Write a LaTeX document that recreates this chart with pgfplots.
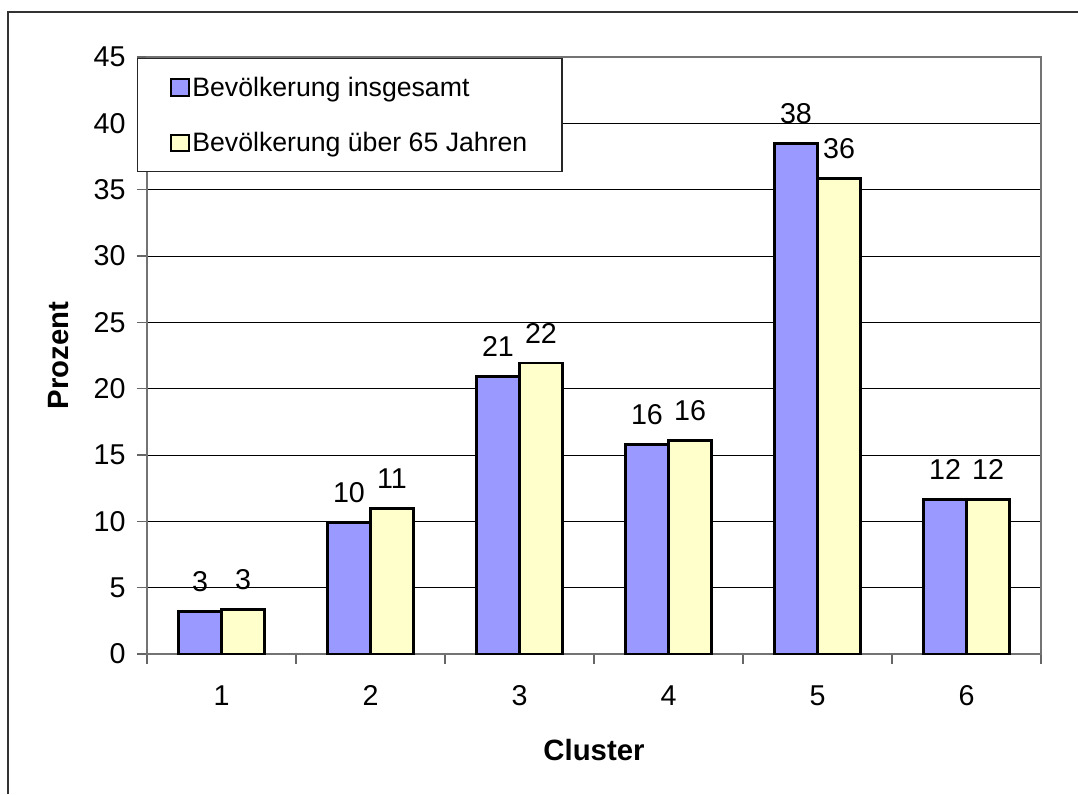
\documentclass[border=0pt]{standalone}
\usepackage{pgfplots}
\pgfplotsset{compat=1.18}
\usepackage{fontspec}
\setmainfont{Liberation Sans}
\definecolor{barblue}{HTML}{9999FF}
\definecolor{baryellow}{HTML}{FFFFCC}
\begin{document}
\begin{tikzpicture}[x=1pt,y=1pt]
\useasboundingbox (0,0) rectangle (808.5,595.5);
\draw[line width=1.4pt, black!80] (6,0) -- (6,586.5) -- (808.5,586.5);
\begin{axis}[
  at={(110.25pt,105pt)}, anchor=south west,
  scale only axis,
  width=670.5pt, height=447.75pt,
  xmin=0.5, xmax=6.5,
  ymin=0, ymax=45,
  ytick={0,5,...,45},
  ymajorgrids=true,
  major grid style={black, line width=0.6pt},
  axis line style={draw=black!55, line width=1pt},
  tick style={draw=black!60, line width=1pt},
  tick align=outside,
  major tick length=7.5pt,
  xtick={0.5,1.5,...,6.5},
  xticklabels={},
  extra x ticks={1,2,3,4,5,6},
  extra x tick labels={1,2,3,4,5,6},
  extra x tick style={major tick length=0pt, grid=none},
  xticklabel style={font=\fontsize{21.5}{25}\selectfont, yshift=-20pt},
  yticklabel style={font=\fontsize{21.5}{25}\selectfont, xshift=-5pt},
  /pgf/number format/assume math mode=true,
  ytick pos=left, xtick pos=bottom,
  xlabel={Cluster},
  ylabel={Prozent},
  xlabel style={font=\bfseries\fontsize{22}{26}\selectfont, at={(axis description cs:0.5,-0.161)}, anchor=center},
  ylabel style={font=\bfseries\fontsize{22}{26}\selectfont, at={(axis description cs:-0.099,0.5)}, anchor=center},
  ybar=0pt,
  bar width=0.2886,
  nodes near coords,
  point meta=explicit symbolic,
  every node near coord/.append style={font=\fontsize{21.5}{25}\selectfont, anchor=south, yshift=10.5pt},
  legend style={
    at={(axis description cs:-0.0112,0.998)}, anchor=north west,
    draw=black!85, line width=0.8pt,
    font=\fontsize{20}{24}\selectfont,
    inner xsep=24pt, inner ysep=11.5pt,
    row sep=21.5pt,
    legend cell align=left,
  },
  legend image code/.code={\draw[#1, line width=1.6pt] (0pt,-6.5pt) rectangle (13.5pt,6pt);},
]
\addplot[fill=barblue, draw=black, line width=2pt, bar shift=-0.1443] coordinates {
  (1,3.19) [3] (2,9.9) [10] (3,20.9) [21] (4,15.8) [16] (5,38.48) [38] (6,11.64) [12]
};
\addlegendentry{Bevölkerung insgesamt}
\addplot[fill=baryellow, draw=black, line width=2pt, bar shift=0.1443] coordinates {
  (1,3.37) [3] (2,10.96) [11] (3,21.93) [22] (4,16.1) [16] (5,35.84) [36] (6,11.64) [12]
};
\addlegendentry{Bevölkerung über 65 Jahren}
\end{axis}
\end{tikzpicture}
\end{document}
